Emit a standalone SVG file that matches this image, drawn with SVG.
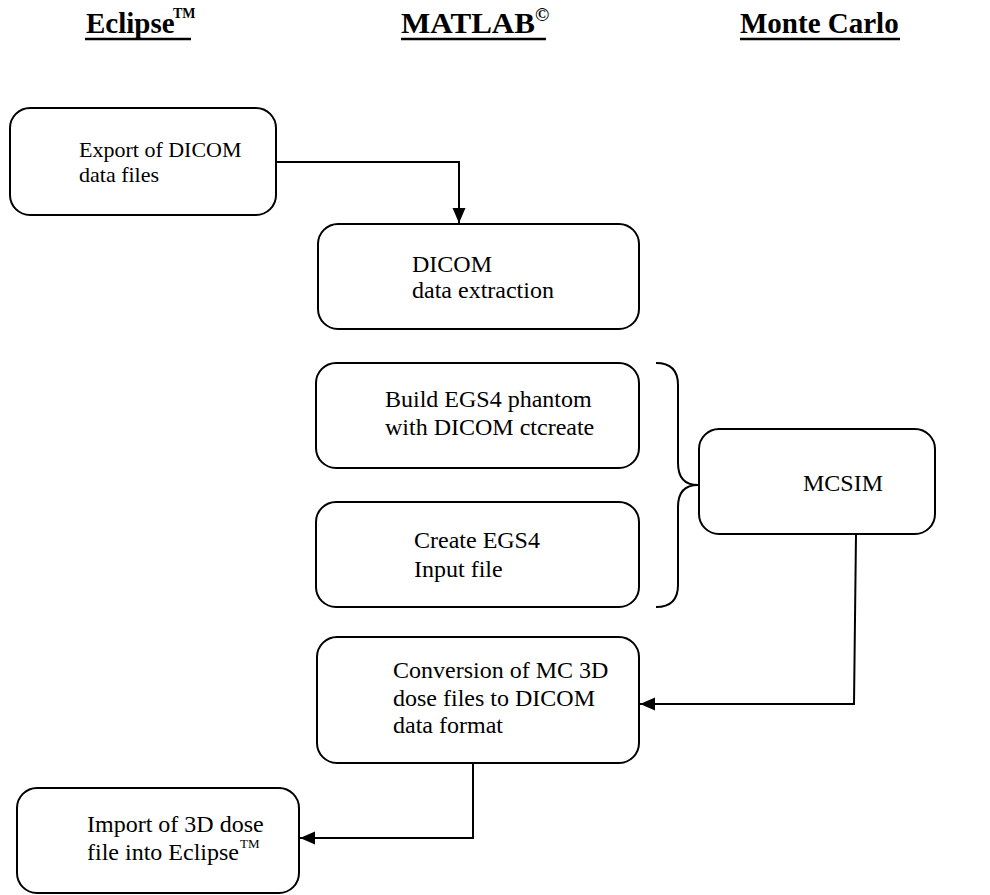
<svg xmlns="http://www.w3.org/2000/svg" width="990" height="895" viewBox="0 0 990 895">
<defs>
<style>
.box{fill:#fff;stroke:#000;stroke-width:2}
.t{font-family:"Liberation Serif","Times New Roman",serif;font-size:24px;fill:#000}
.ts{font-family:"Liberation Serif","Times New Roman",serif;font-size:22px;fill:#000}
.h{font-family:"Liberation Serif","Times New Roman",serif;font-size:29px;font-weight:bold;fill:#000}
.sup{font-family:"Liberation Serif","Times New Roman",serif;font-size:14px;font-weight:bold;fill:#000}
.cp{font-family:"Liberation Serif","Times New Roman",serif;font-size:19px;font-weight:bold;fill:#000}
.supn{font-family:"Liberation Serif","Times New Roman",serif;font-size:13px;fill:#000}
.ul{stroke:#000;stroke-width:2.5}
.c{fill:none;stroke:#000;stroke-width:2}
</style>
<marker id="ah" markerUnits="userSpaceOnUse" markerWidth="16" markerHeight="14" refX="15" refY="6.5" orient="auto">
<path d="M0,0 L15,6.5 L0,13 z" fill="#000"/>
</marker>
</defs>

<g id="headers">
<text class="h" x="86" y="33">Eclipse</text><text class="sup" x="173" y="18">TM</text>
<line class="ul" x1="85" y1="39" x2="191" y2="39"/>
<text class="h" x="401" y="33" textLength="134" lengthAdjust="spacingAndGlyphs">MATLAB</text><text class="cp" x="535" y="21">©</text>
<line class="ul" x1="401" y1="39" x2="546" y2="39"/>
<text class="h" x="740" y="33">Monte Carlo</text>
<line class="ul" x1="740" y1="39" x2="900" y2="39"/>
</g>

<g id="export">
<rect class="box" x="10" y="108" width="266" height="107" rx="20"/>
<text class="ts" x="79" y="157">Export of DICOM</text>
<text class="ts" x="79" y="182">data files</text>
</g>

<g id="dicom">
<rect class="box" x="318" y="224" width="321" height="105" rx="20"/>
<text class="t" x="412" y="272">DICOM</text>
<text class="t" x="412" y="298">data extraction</text>
</g>

<g id="build">
<rect class="box" x="316" y="363" width="323" height="105" rx="20"/>
<text class="t" x="385" y="407">Build EGS4 phantom</text>
<text class="t" x="385" y="435">with DICOM ctcreate</text>
</g>

<g id="create">
<rect class="box" x="316" y="502" width="323" height="105" rx="20"/>
<text class="t" x="414" y="548">Create EGS4</text>
<text class="t" x="414" y="577">Input file</text>
</g>

<g id="brace">
<path class="c" d="M656,363 Q678,363 678,385 L678,463 Q678,485 698,485 Q678,485 678,507 L678,585 Q678,607 656,607"/>
</g>

<g id="mcsim">
<rect class="box" x="699" y="429" width="236" height="105" rx="20"/>
<text class="t" x="803" y="491">MCSIM</text>
</g>

<g id="conversion">
<rect class="box" x="317" y="637" width="322" height="126" rx="20"/>
<text class="t" x="393" y="678">Conversion of MC 3D</text>
<text class="t" x="393" y="706">dose files to DICOM</text>
<text class="t" x="393" y="733">data format</text>
</g>

<g id="import">
<rect class="box" x="17" y="788" width="282" height="105" rx="20"/>
<text class="t" x="87" y="832">Import of 3D dose</text>
<text class="t" x="87" y="860">file into Eclipse</text><text class="supn" x="240" y="848">TM</text>
</g>

<g id="connectors">
<path class="c" d="M276,162 L459,162 L459,223" marker-end="url(#ah)"/>
<path class="c" d="M856,534 L854,704 L640,704" marker-end="url(#ah)"/>
<path class="c" d="M473,763 L473,838 L300,838" marker-end="url(#ah)"/>
</g>
</svg>
